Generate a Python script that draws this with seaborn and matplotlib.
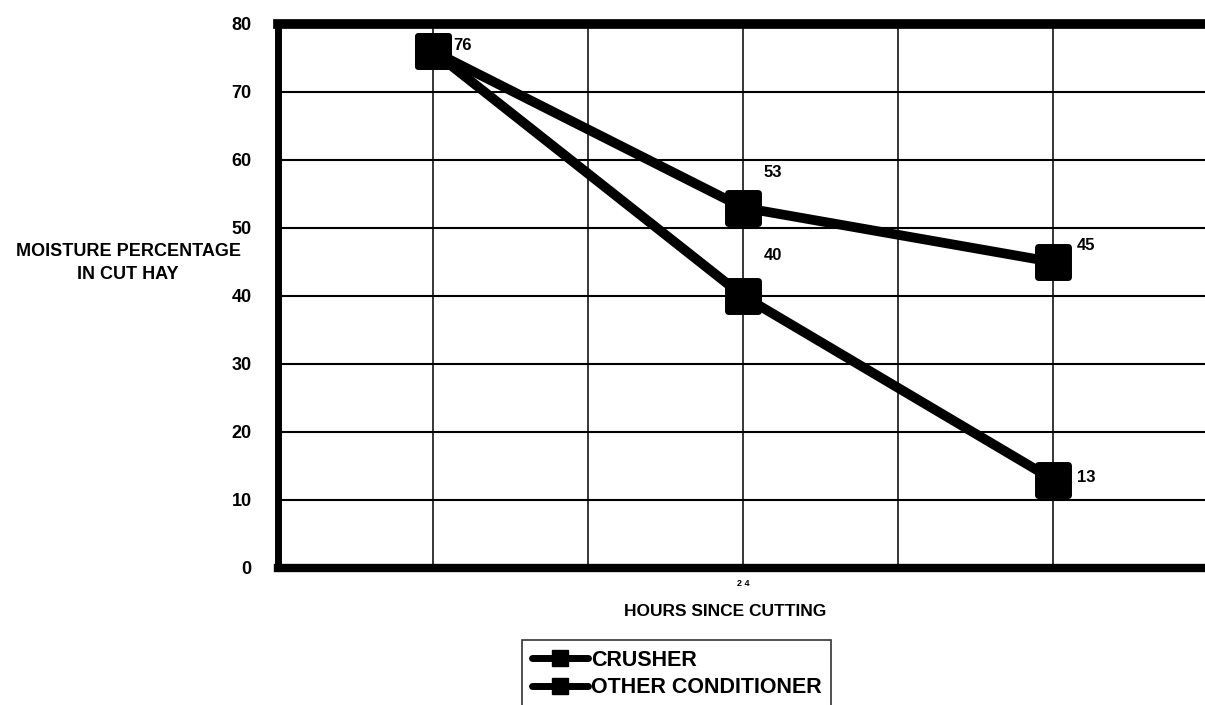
import pandas as pd
import matplotlib.pyplot as plt
import seaborn as sns
from matplotlib.lines import Line2D
from matplotlib.markers import MarkerStyle

# values
positions = [1, 3, 5]
crusher = [76, 40, 13]
other = [76, 53, 45]
series_names = ['CRUSHER', 'OTHER CONDITIONER']
y_ticks = [0, 10, 20, 30, 40, 50, 60, 70, 80]

df = pd.DataFrame({
    'pos': positions * 2,
    'moisture': crusher + other,
    'series': [series_names[0]] * 3 + [series_names[1]] * 3,
})

sns.set_style('white')
plt.rcParams['font.family'] = ['Liberation Sans', 'DejaVu Sans']
plt.rcParams['text.color'] = 'black'
plt.rcParams['xtick.color'] = 'black'
plt.rcParams['ytick.color'] = 'black'

fig = plt.figure(figsize=(12.05, 7.05), dpi=100)
W, H = 1205, 705
ax = fig.add_axes([278 / W, 1 - 568 / H, (1208 - 278) / W, (568 - 24) / H])

sq = MarkerStyle('s', joinstyle='round')
sns.lineplot(data=df, x='pos', y='moisture', hue='series', palette=['black', 'black'],
             marker=sq, markersize=21, linewidth=7, legend=False, ax=ax)
for ln in ax.get_lines():
    ln.set_markeredgewidth(5)
    ln.set_markeredgecolor('black')
    ln.set_zorder(5)

# data labels (pixel offsets from the point)
offsets = {(1, 76): (30, 6), (3, 40): (30, 41), (5, 13): (33, 2),
           (3, 53): (30, 35), (5, 45): (33, 17)}
done = set()
for x, y in zip(positions * 2, crusher + other):
    if (x, y) in done:
        continue
    done.add((x, y))
    dx, dy = offsets[(x, y)]
    ax.annotate(str(y), (x, y), xytext=(dx, dy), textcoords='offset pixels',
                ha='center', va='center', fontsize=12, fontweight='bold')

ax.set_xlim(0, 6)
ax.set_ylim(0, 80)
ax.set_yticks(y_ticks)
ax.set_yticklabels([str(t) for t in y_ticks], fontsize=13, fontweight='bold')
ax.set_xticks([1, 2, 3, 4, 5, 6])
ax.set_xticklabels(['', '', '2 4', '', '', ''], fontsize=6.5, fontweight='bold')
ax.tick_params(axis='y', length=5, width=1.5, pad=14)
ax.tick_params(axis='x', length=0, pad=8)

ax.grid(True, axis='y', color='black', linewidth=1.5)
ax.grid(True, axis='x', color='black', linewidth=1.1)
ax.set_axisbelow(True)

ax.spines['left'].set_linewidth(5)
ax.spines['bottom'].set_linewidth(6)
ax.spines['top'].set_linewidth(7)
ax.spines['right'].set_visible(False)
for s in ax.spines.values():
    s.set_color('black')

ax.set_xlabel('')
ax.set_ylabel('')
fig.text(725 / W, 1 - 612 / H, 'HOURS SINCE CUTTING', ha='center', va='center',
         fontsize=12.5, fontweight='bold')
fig.text(128 / W, 1 - 263 / H, 'MOISTURE PERCENTAGE\nIN CUT HAY', ha='center',
         va='center', fontsize=13, fontweight='bold', linespacing=1.45)

handles = [Line2D([], [], color='black', linewidth=5, marker='s', markersize=11)
           for _ in series_names]
leg = fig.legend(handles, series_names, loc='upper left',
                 bbox_to_anchor=(522 / W, 1 - 640 / H), fontsize=15.5, frameon=True,
                 fancybox=False, edgecolor='black', handlelength=2.6,
                 handletextpad=0.15, labelspacing=0.3, borderpad=0.45,
                 borderaxespad=0)
leg.get_frame().set_linewidth(1.2)
for t in leg.get_texts():
    t.set_fontweight('bold')

fig.savefig('out.png', dpi=100)
